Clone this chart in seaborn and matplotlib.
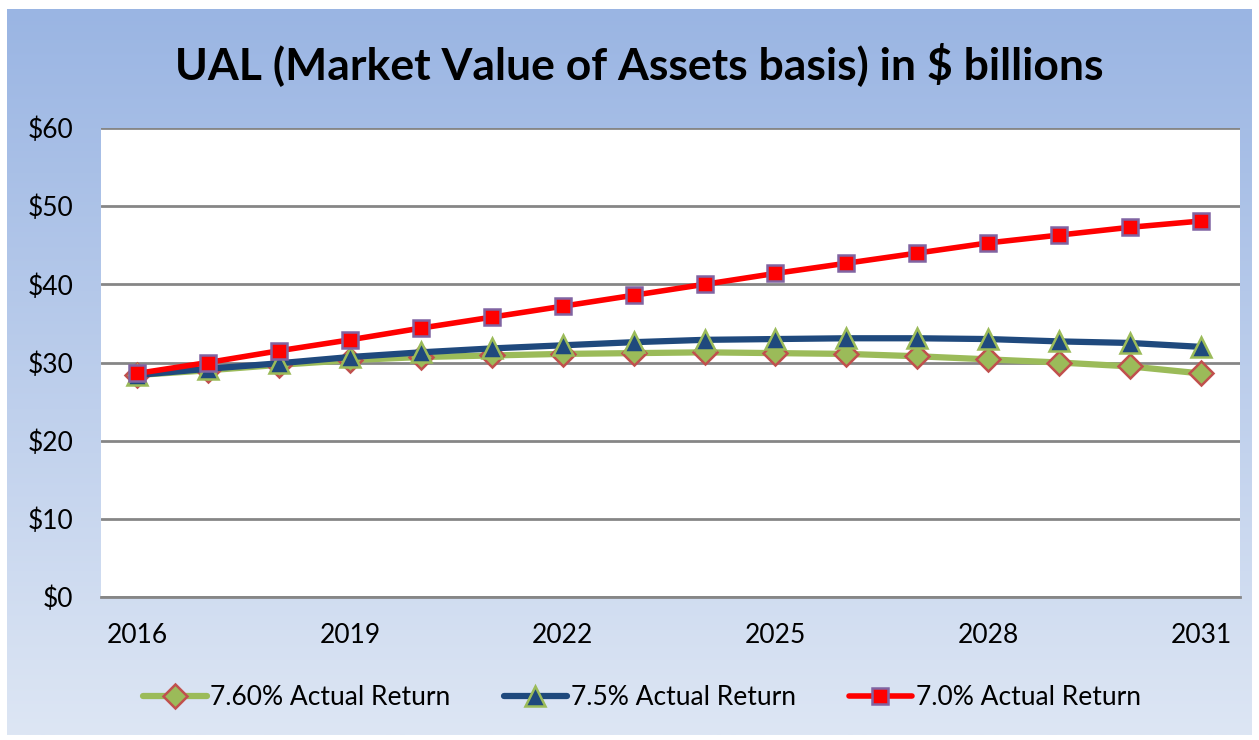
import matplotlib
matplotlib.use("Agg")
import matplotlib.pyplot as plt
import numpy as np
import pandas as pd
import seaborn as sns
from matplotlib.colors import LinearSegmentedColormap
from matplotlib.ticker import FuncFormatter

years = list(range(2016, 2032))
ret_760 = [28.4, 29.0, 29.7, 30.3, 30.7, 30.9, 31.1, 31.2, 31.3, 31.2, 31.1, 30.8, 30.4, 30.0, 29.5, 28.6]
ret_75 = [28.4, 29.2, 29.9, 30.7, 31.3, 31.8, 32.2, 32.6, 32.9, 33.0, 33.1, 33.1, 33.0, 32.7, 32.5, 32.0]
ret_70 = [28.6, 30.0, 31.5, 32.9, 34.4, 35.8, 37.2, 38.6, 40.0, 41.4, 42.7, 44.0, 45.3, 46.3, 47.3, 48.1]

series_names = ["7.60% Actual Return", "7.5% Actual Return", "7.0% Actual Return"]

sns.set_theme(style="white")
plt.rcParams["font.family"] = ["Lato", "DejaVu Sans"]

W, H = 1259, 740
fig = plt.figure(figsize=(W / 100, H / 100), dpi=100)
fig.patch.set_facecolor("white")

# gradient background panel
bg = fig.add_axes([7 / W, 5 / H, 1245 / W, 726 / H], zorder=0)
grad = LinearSegmentedColormap.from_list("bg", ["#9AB5E3", "#DDE6F4"])
bg.imshow(np.linspace(0, 1, 256).reshape(-1, 1), aspect="auto", cmap=grad,
          extent=[0, 1, 0, 1])
bg.set_axis_off()

ax = fig.add_axes([101 / W, (H - 597) / H, 1139 / W, 469 / H], zorder=1)
ax.set_facecolor("white")

styles = [
    dict(color="#9BBB59", marker="D", mfc="#9BBB59", mec="#C0504D", ms=12.5, lw=4.5),
    dict(color="#1F497D", marker="^", mfc="#1F497D", mec="#9BBB59", ms=14, lw=4.5),
    dict(color="#FF0000", marker="s", mfc="#FF0000", mec="#8064A2", ms=11.5, lw=4),
]
for vals, name, st in zip([ret_760, ret_75, ret_70], series_names, styles):
    df = pd.DataFrame({"year": years, "value": vals})
    sns.lineplot(data=df, x="year", y="value", ax=ax, label=name,
                 color=st["color"], linewidth=st["lw"], marker=st["marker"],
                 markersize=st["ms"], markerfacecolor=st["mfc"],
                 markeredgecolor=st["mec"], markeredgewidth=1.8, zorder=3)

ax.set_xlim(2015.49, 2031.55)
ax.set_ylim(0, 60)
ax.set_yticks(range(0, 61, 10))
ax.yaxis.set_major_formatter(FuncFormatter(lambda v, p: f"${v:.0f}"))
ax.set_xticks(range(2016, 2032, 3))
ax.grid(axis="y", color="#868686", linewidth=2)
ax.grid(axis="x", visible=False)
ax.set_axisbelow(True)
for s in ["left", "right", "top"]:
    ax.spines[s].set_visible(False)
ax.spines["bottom"].set_color("#868686")
ax.spines["bottom"].set_linewidth(2)
ax.tick_params(axis="both", labelsize=19, colors="black", length=0)
ax.tick_params(axis="x", pad=19)
ax.tick_params(axis="y", pad=20)
ax.set_xlabel("")
ax.set_ylabel("")

fig.text(0.5076, 0.913, "UAL (Market Value of Assets basis) in $ billions",
         ha="center", va="center", fontsize=32, fontweight="bold", color="black")

leg = ax.legend(loc="center", bbox_to_anchor=(0.475, -0.215), ncol=3, frameon=False,
                fontsize=19, handlelength=2.4, columnspacing=2.0, handletextpad=0.15)
for t in leg.get_texts():
    t.set_color("black")

fig.savefig("out.png", dpi=100, facecolor="white")
